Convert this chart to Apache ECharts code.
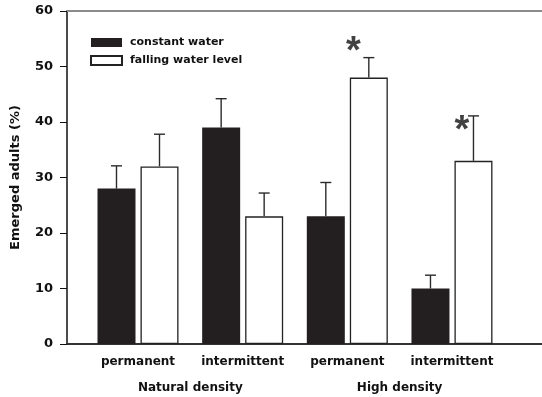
<!DOCTYPE html>
<html>
<head>
<meta charset="utf-8">
<script src="https://cdn.jsdelivr.net/npm/echarts@6/dist/echarts.min.js"></script>
<style>
  html, body { margin: 0; padding: 0; background: #fff; }
  #chart { width: 542px; height: 397px; }
</style>
</head>
<body>
<div id="chart"></div>
<script>
// Habitat type within each density treatment
const habitats = ['permanent', 'intermittent', 'permanent', 'intermittent'];
const densities = ['Natural density', 'High density'];
const seriesNames = ['constant water', 'falling water level'];

// Mean emergence (%) and upper end of the error bar
const constantMean = [28, 39, 23, 10];
const constantUpper = [32.1, 44.2, 29.1, 12.4];
const fallingMean = [32, 23, 48, 33];
const fallingUpper = [37.8, 27.2, 51.6, 41.1];

// Significant differences: [category index, height]
const sigMarks = [[2, 53.6], [3, 39.4]];

const yTicks = [0, 10, 20, 30, 40, 50, 60];

const FONT = 'DejaVu Sans';
const BAR_W = 38;
const BAR_GAP_PX = 5;
const HALF_STEP = (BAR_W + BAR_GAP_PX) / 2;

function errorBarRenderer(sign) {
  return function (params, api) {
    const idx = api.value(0);
    const base = api.coord([idx, api.value(1)]);
    const top = api.coord([idx, api.value(2)]);
    const x = base[0] + sign * HALF_STEP;
    const capHalf = 5.5;
    const style = { stroke: '#2b2b2b', lineWidth: 1.4 };
    return {
      type: 'group',
      children: [
        { type: 'line', shape: { x1: x, y1: base[1], x2: x, y2: top[1] }, style: style },
        { type: 'line', shape: { x1: x - capHalf, y1: top[1], x2: x + capHalf, y2: top[1] }, style: style }
      ]
    };
  };
}

const chart = echarts.init(document.getElementById('chart'), null, { renderer: 'canvas' });

chart.setOption({
  animation: false,
  backgroundColor: '#fff',
  textStyle: { fontFamily: FONT },
  grid: [
    { left: 67, right: 0, top: 11, bottom: 53 },
    { left: 85.67, right: 37.7, top: 11, bottom: 53 }
  ],
  legend: {
    data: seriesNames,
    orient: 'vertical',
    left: 90,
    top: 37,
    padding: 0,
    itemWidth: 31,
    itemHeight: 9,
    itemGap: 7,
    icon: 'rect',
    textStyle: { fontFamily: FONT, fontWeight: 'bold', fontSize: 11, color: '#111', padding: [0, 0, 0, 3] }
  },
  xAxis: [
    {
      gridIndex: 0, type: 'value', min: 0, max: 1, position: 'bottom',
      axisLine: { show: true, lineStyle: { color: '#333', width: 2 } },
      axisTick: { show: false }, axisLabel: { show: false }, splitLine: { show: false }
    },
    {
      gridIndex: 0, type: 'value', min: 0, max: 1, position: 'top',
      axisLine: { show: true, lineStyle: { color: '#8c8c8c', width: 2 } },
      axisTick: { show: false }, axisLabel: { show: false }, splitLine: { show: false }
    },
    {
      gridIndex: 1, type: 'category', data: habitats, position: 'bottom',
      axisLine: { show: false }, axisTick: { show: false },
      axisLabel: { interval: 0, margin: 12, fontFamily: FONT, fontWeight: 'bold', fontSize: 12, color: '#111' }
    },
    {
      gridIndex: 1, type: 'category', data: densities, position: 'bottom',
      axisLine: { show: false }, axisTick: { show: false },
      axisLabel: { interval: 0, margin: 38, fontFamily: FONT, fontWeight: 'bold', fontSize: 12, color: '#111' }
    }
  ],
  yAxis: [
    {
      gridIndex: 0, type: 'value', min: yTicks[0], max: yTicks[yTicks.length - 1], interval: 10,
      name: 'Emerged adults (%)', nameLocation: 'middle', nameGap: 45, nameRotate: 90,
      nameTextStyle: { fontFamily: FONT, fontWeight: 'bold', fontSize: 13, color: '#111' },
      axisLine: { show: true, lineStyle: { color: '#111', width: 1.5 } },
      axisTick: { show: true, inside: false, length: 7, lineStyle: { color: '#111', width: 1 } },
      axisLabel: { margin: 14, fontFamily: FONT, fontWeight: 'bold', fontSize: 13, color: '#111' },
      splitLine: { show: false }
    },
    {
      gridIndex: 1, type: 'value', min: yTicks[0], max: yTicks[yTicks.length - 1], interval: 10,
      show: false
    }
  ],
  series: [
    {
      name: seriesNames[0], type: 'bar', xAxisIndex: 2, yAxisIndex: 1,
      data: constantMean, barWidth: BAR_W, barGap: (BAR_GAP_PX / BAR_W * 100) + '%',
      itemStyle: { color: '#231f20', borderColor: '#231f20', borderWidth: 0 }
    },
    {
      name: seriesNames[1], type: 'bar', xAxisIndex: 2, yAxisIndex: 1,
      data: fallingMean, barWidth: BAR_W, barGap: (BAR_GAP_PX / BAR_W * 100) + '%',
      itemStyle: { color: '#ffffff', borderColor: '#222', borderWidth: 1.3 }
    },
    {
      type: 'custom', xAxisIndex: 2, yAxisIndex: 1, z: 5,
      renderItem: errorBarRenderer(-1),
      data: constantMean.map((v, i) => [i, v, constantUpper[i]])
    },
    {
      type: 'custom', xAxisIndex: 2, yAxisIndex: 1, z: 5,
      renderItem: errorBarRenderer(1),
      data: fallingMean.map((v, i) => [i, v, fallingUpper[i]])
    },
    {
      type: 'scatter', xAxisIndex: 2, yAxisIndex: 1, z: 6,
      symbolSize: 0,
      data: sigMarks.map(m => ({ value: m, label: { offset: [m[0] === 2 ? 6 : 10, 6] } })),
      label: {
        show: true, position: 'inside', formatter: '*',
        fontFamily: 'Liberation Sans', fontWeight: 'bold', fontSize: 38, color: '#111'
      }
    }
  ]
});
</script>
</body>
</html>
